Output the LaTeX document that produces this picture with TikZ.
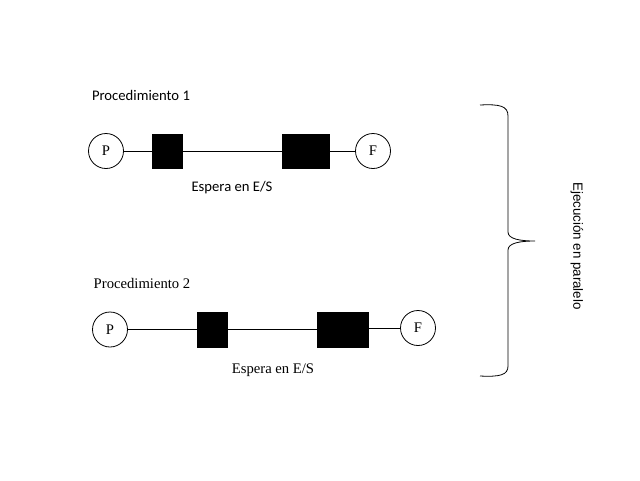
\documentclass[tikz,border=0pt]{standalone}
\usepackage{fontspec}
\setmainfont{Liberation Serif}
\newfontfamily\calibrifont{Carlito}
\newfontfamily\arialfont{Liberation Sans}

\tikzset{
    endpoint/.style={draw, circle, line width=0.6pt, minimum size=26.25pt, inner sep=0pt, font=\fontsize{11}{13}\selectfont},
    iobox/.style={draw, fill=black, minimum height=25.5pt, inner sep=0pt},
    link/.style={line width=0.6pt}
}

\begin{document}
\begin{tikzpicture}[x=0.75pt, y=-0.75pt]
        \useasboundingbox (0,0) rectangle (640,480);

        % procedure 1
        % -----------
        % nodes
        \node[endpoint] (P1) at (106,151) {P};
        \node[iobox, minimum width=22.5pt] (A1) at (167,151) {};
        \node[iobox, minimum width=35.25pt] (B1) at (305.5,151) {};
        \node[endpoint] (F1) at (373,151) {F};

        % draw links
        \draw[link] (P1) -- (A1);
        \draw[link] (A1) -- (B1);
        \draw[link] (B1) -- (F1);

        % add labels
        \node[font=\calibrifont\fontsize{11}{13}\selectfont] (T1) at (141,95) {Procedimiento 1};
        \node[font=\calibrifont\fontsize{11}{13}\selectfont] (W1) at (232,188) {Espera en E/S};

        % procedure 2
        % -----------
        % nodes
        \node[endpoint] (P2) at (110,329.5) {P};
        \node[iobox, minimum width=22.5pt, minimum height=26.25pt] (A2) at (212,329.5) {};
        \node[iobox, minimum width=38.25pt, minimum height=26.25pt] (B2) at (342.5,329.5) {};
        \node[endpoint] (F2) at (418,328) {F};

        % draw links
        \draw[link] (P2) -- (A2);
        \draw[link] (A2) -- (B2);
        \draw[link] (B2.east |- F2) -- (F2);

        % add labels
        \node[font=\fontsize{11}{13}\selectfont] (T2) at (142,283) {Procedimiento 2};
        \node[font=\fontsize{11}{13}\selectfont] (W2) at (273,370) {Espera en E/S};

        % brace
        % -----
        \coordinate (Btop) at (480,105);
        \coordinate (Btip) at (535,241);
        \coordinate (Bbot) at (480,376);
        \draw[line width=0.6pt]
            (Btop) .. controls (500,104) and (508,106) .. (508,116)
            -- (508,232) .. controls (508,239) and (520,241) .. (Btip)
            .. controls (520,241) and (508,243) .. (508,250)
            -- (508,366) .. controls (508,375) and (500,377) .. (Bbot);
        \node[rotate=-90, font=\arialfont\fontsize{10}{12}\selectfont] (E) at (577,246) {Ejecución en paralelo};

    \end{tikzpicture}
\end{document}
